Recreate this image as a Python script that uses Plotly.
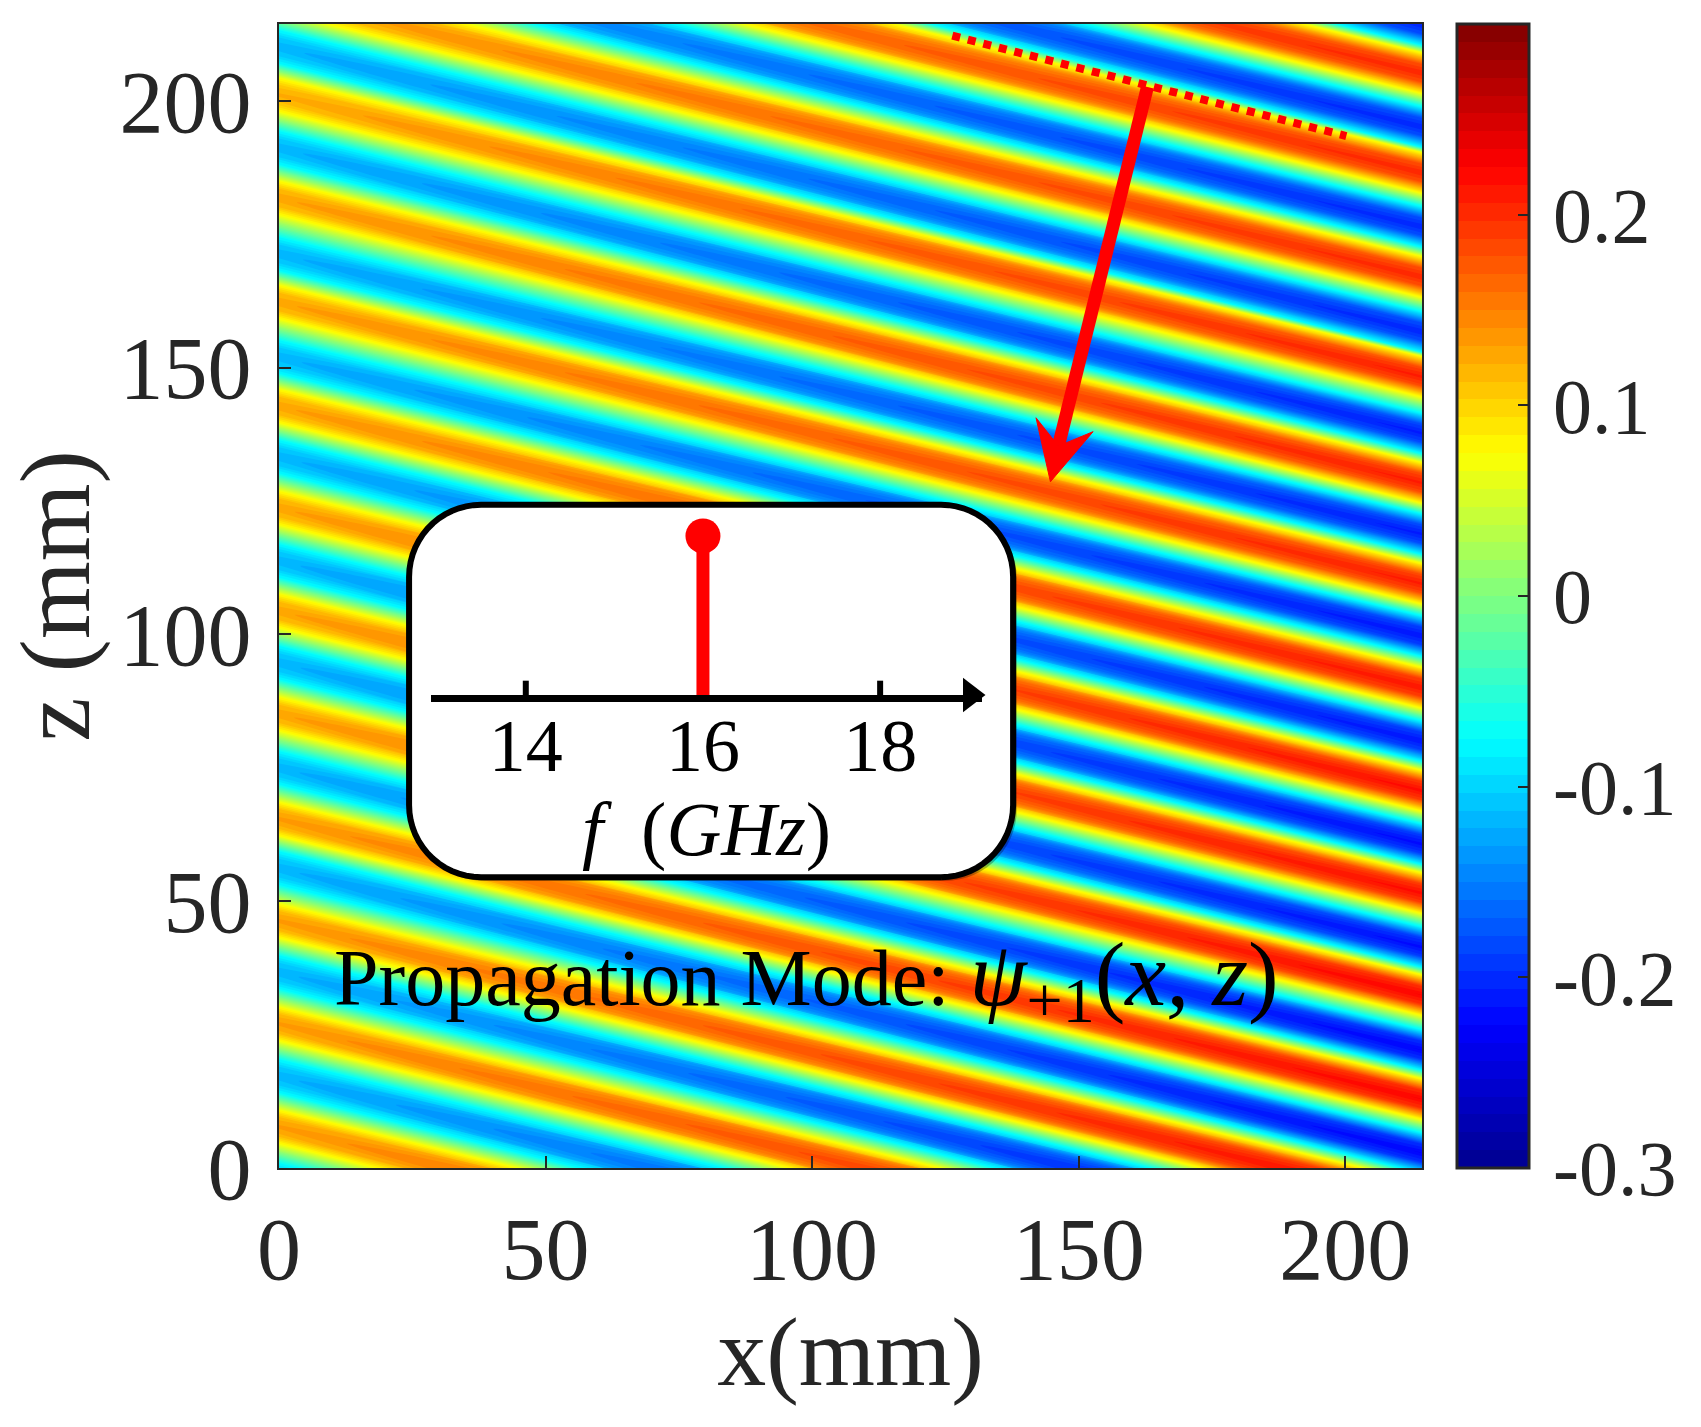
import numpy as np
import plotly.graph_objects as go

# Stripe table: z (mm) of each alternate trough / crest at the left and right edges
stripe_left_z = [-2.2, 7.7, 17.2, 27.0, 36.7, 46.3, 56.2, 65.4, 75.0, 85.1, 94.7, 104.4, 113.8, 123.7, 133.3,
                 142.8, 152.0, 162.3, 171.3, 181.8, 191.2, 201.1, 210.1, 219.8, 229.5, 239.3, 248.2, 258.0, 267.0, 277.7]
stripe_right_z = [-55.0, -45.1, -35.6, -25.8, -16.2, -6.5, 2.8, 12.9, 22.1, 32.4, 41.4, 51.5, 60.7, 70.7, 80.0,
                  90.0, 99.7, 109.5, 118.8, 128.4, 137.7, 148.3, 156.7, 167.0, 176.4, 186.5, 195.1, 205.2, 214.2, 225.0]
stripe_left_v = [-0.12, 0.135, -0.12, 0.135, -0.12, 0.135, -0.12, 0.135, -0.12, 0.13, -0.12, 0.13, -0.12, 0.13, -0.12,
                 0.13, -0.12, 0.13, -0.12, 0.13, -0.12, 0.125, -0.12, 0.125, -0.12, 0.125, -0.12, 0.125, -0.12, 0.125]
stripe_right_v = [-0.23, 0.23, -0.23, 0.23, -0.23, 0.226, -0.226, 0.226, -0.226, 0.226, -0.22, 0.22, -0.22, 0.22, -0.215,
                  0.215, -0.215, 0.21, -0.21, 0.21, -0.21, 0.21, -0.205, 0.205, -0.205, 0.205, -0.205, 0.205, -0.205, 0.205]
# Half-width (mm) of the band between a crest/trough and its yellow/cyan contour, left and right edge
band_left_mm, band_right_mm = 3.1, 3.8
band_level = 0.0755
# Rounded top of each stripe: offset (mm) from the crest and the share of the crest value kept there
cap_mm = 1.7
cap_share = 0.87

edge_x = [0.0, 214.4]
x_ticks = [0, 50, 100, 150, 200]
z_ticks = [0, 50, 100, 150, 200]
bar_ticks = [-0.3, -0.2, -0.1, 0, 0.1, 0.2]
bar_labels = ["-0.3", "-0.2", "-0.1", "0", "0.1", "0.2"]

dotted_x = [126.3, 200.2]
dotted_z = [212.2, 193.4]
arrow_x = [162.9, 146.2]
arrow_z = [202.6, 135.3]
head_x = [144.7, 142.0, 146.2, 152.7, 144.7]
head_z = [128.6, 140.6, 135.3, 138.0, 128.6]

inset_ticks = [14, 16, 18]
inset_tick_marks_f = [14, 14, None, 18, 18]
inset_tick_marks_y = [0, 0.09, None, 0, 0.09]
stem_f = [16, 16]
stem_amp = [0, 1]
jet_stops = [[0, "rgb(0,0,143)"], [0.125, "rgb(0,0,255)"], [0.375, "rgb(0,255,255)"],
             [0.625, "rgb(255,255,0)"], [0.875, "rgb(255,0,0)"], [1, "rgb(128,0,0)"]]

W, H = 1701, 1427
L, R, T, B = 279, 1422, 24, 1168
SERIF = "Liberation Serif"
INK = "#262626"

rows_y, rows_v = [], []
n = len(stripe_left_z)
for i, (zl, zr, vl, vr) in enumerate(zip(stripe_left_z, stripe_right_z, stripe_left_v, stripe_right_v)):
    if i > 0:
        rows_y.append([zl - cap_mm, zr - cap_mm]); rows_v.append([vl * cap_share, vr * cap_share])
    rows_y.append([zl, zr]); rows_v.append([vl, vr])
    if i + 1 < n:
        rows_y.append([zl + cap_mm, zr + cap_mm]); rows_v.append([vl * cap_share, vr * cap_share])
        sign = 1 if vl < 0 else -1
        rows_y.append([zl + band_left_mm, zr + band_right_mm])
        rows_v.append([-sign * band_level, -sign * band_level])
        rows_y.append([stripe_left_z[i + 1] - band_left_mm, stripe_right_z[i + 1] - band_right_mm])
        rows_v.append([sign * band_level, sign * band_level])
rows_x = [edge_x] * len(rows_y)
b_idx = list(range(len(rows_y)))

fig = go.Figure()
hidden_axis = dict(smoothing=0, showgrid=False, showline=False, showticklabels="none", startline=False, endline=False)
fig.add_trace(go.Carpet(a=edge_x, b=b_idx, x=rows_x, y=rows_y, carpet="field", xaxis="x", yaxis="y",
                        aaxis=hidden_axis, baxis=hidden_axis))
fig.add_trace(go.Contourcarpet(
    a=edge_x, b=b_idx, z=rows_v, carpet="field", xaxis="x", yaxis="y",
    autocontour=False, zmin=-0.3, zmax=0.3, colorscale=jet_stops,
    contours=dict(start=-0.3, end=0.3, size=0.009375, coloring="fill", showlines=False),
    line=dict(width=0),
    colorbar=dict(
        thicknessmode="pixels", thickness=72, lenmode="fraction", len=(B - T) / H,
        x=1457 / W, xanchor="left", xpad=0, y=1 - B / H, yanchor="bottom", ypad=0,
        tickmode="array", tickvals=bar_ticks, ticktext=["\u200a" + s for s in bar_labels],
        ticks="inside", ticklen=12, tickwidth=2, tickcolor=INK,
        outlinewidth=3, outlinecolor=INK,
        tickfont=dict(family=SERIF, size=78, color=INK),
    ),
))

# rounded inset panel
def rounded(x0, x1, z0, z1, r):
    t = np.linspace(0, np.pi / 2, 16)
    xs = np.r_[x1 - r + r * np.sin(t), x1 - r + r * np.cos(t), x0 + r - r * np.sin(t), x0 + r - r * np.cos(t)]
    zs = np.r_[z0 + r - r * np.cos(t), z1 - r + r * np.sin(t), z1 - r + r * np.cos(t), z0 + r - r * np.sin(t)]
    return np.r_[xs, xs[0]], np.r_[zs, zs[0]]

sx, sz = rounded(25.0, 138.4, 53.8, 124.0, 13.5)
fig.add_trace(go.Scatter(x=sx, y=sz, mode="lines", fill="toself", fillcolor="rgba(0,0,0,0.28)",
                         line=dict(color="rgba(0,0,0,0)", width=0, simplify=False), hoverinfo="skip", showlegend=False))
px, pz = rounded(24.4, 137.7, 54.5, 124.3, 13.5)
fig.add_trace(go.Scatter(x=px, y=pz, mode="lines", fill="toself", fillcolor="white",
                         line=dict(color="black", width=6, simplify=False), hoverinfo="skip", showlegend=False))

fig.add_trace(go.Scatter(x=dotted_x, y=dotted_z, mode="lines", line=dict(color="#ff0000", width=8, dash="8px,8px"), showlegend=False))
fig.add_trace(go.Scatter(x=arrow_x, y=arrow_z, mode="lines", line=dict(color="#ff0000", width=13), showlegend=False))
fig.add_trace(go.Scatter(x=head_x, y=head_z, mode="lines", fill="toself", fillcolor="#ff0000",
                         line=dict(color="#ff0000", width=1), showlegend=False))

# inset spectrum axes
fig.add_trace(go.Scatter(x=inset_tick_marks_f, y=inset_tick_marks_y, xaxis="x2", yaxis="y2", mode="lines", cliponaxis=False,
                         line=dict(color="black", width=6), showlegend=False))
fig.add_trace(go.Scatter(x=stem_f, y=stem_amp, xaxis="x2", yaxis="y2", mode="lines+markers", cliponaxis=False,
                         line=dict(color="#ff0000", width=13),
                         marker=dict(color="#ff0000", size=[0, 35], opacity=1, line=dict(width=0)), showlegend=False))
fig.add_trace(go.Scatter(x=[19.02], y=[0], xaxis="x2", yaxis="y2", mode="markers", cliponaxis=False,
                         marker=dict(symbol="triangle-right", color="black", size=30, opacity=1, line=dict(width=0)), showlegend=False))

axis_common = dict(showline=True, linecolor=INK, linewidth=2, mirror=True, ticks="inside", ticklen=12,
                   tickwidth=2, tickcolor=INK, showgrid=False, zeroline=False,
                   tickfont=dict(family=SERIF, size=88, color=INK))
fig.update_layout(
    width=W, height=H, autosize=False, showlegend=False,
    margin=dict(l=0, r=0, t=0, b=0, pad=0, autoexpand=False), paper_bgcolor="white", plot_bgcolor="rgba(0,0,0,0)",
    xaxis=dict(domain=[L / W, R / W], range=[0, 214.4], tickvals=x_ticks, ticklabelstandoff=3,
               title=dict(text="x(mm)", font=dict(family=SERIF, size=98, color=INK), standoff=19), **axis_common),
    yaxis=dict(domain=[1 - B / H, 1 - T / H], range=[0, 214.4], tickvals=z_ticks, ticklabelstandoff=8,
               title=dict(text="z (mm)", font=dict(family=SERIF, size=100, color=INK), standoff=27), **axis_common),
    xaxis2=dict(domain=[431 / W, 982 / W], range=[12.93, 19.15], anchor="y2", showline=True, linecolor="black", linewidth=7,
                ticks="", tickvals=inset_ticks, ticklabelstandoff=-20,
                showgrid=False, zeroline=False, tickfont=dict(family=SERIF, size=74, color="black"),
                title=dict(text="<i>f</i>  (<i>GHz</i>)\u00a0\u00a0\u00a0\u00a0\u00a0", font=dict(family=SERIF, size=76, color="black"), standoff=0)),
    yaxis2=dict(domain=[1 - 695 / H, 1 - 497 / H], range=[0, 1.245], anchor="x2", visible=False),
    annotations=[
        dict(x=332 / W, y=1 - 980 / H, xref="paper", yref="paper", xanchor="left", yanchor="middle", showarrow=False,
             text=("Propagation Mode: <span style='font-size:92px'><i>ψ</i></span>"
                   "<sub><span style='font-size:64px'>+1</span></sub>"
                   "<span style='font-size:92px'>(<i>x, z</i>)</span>"),
             font=dict(family=SERIF, size=80, color="black")),
    ],
)
fig.write_html("out.html", config={"displayModeBar": False}, post_script="document.body.style.margin='0';")
